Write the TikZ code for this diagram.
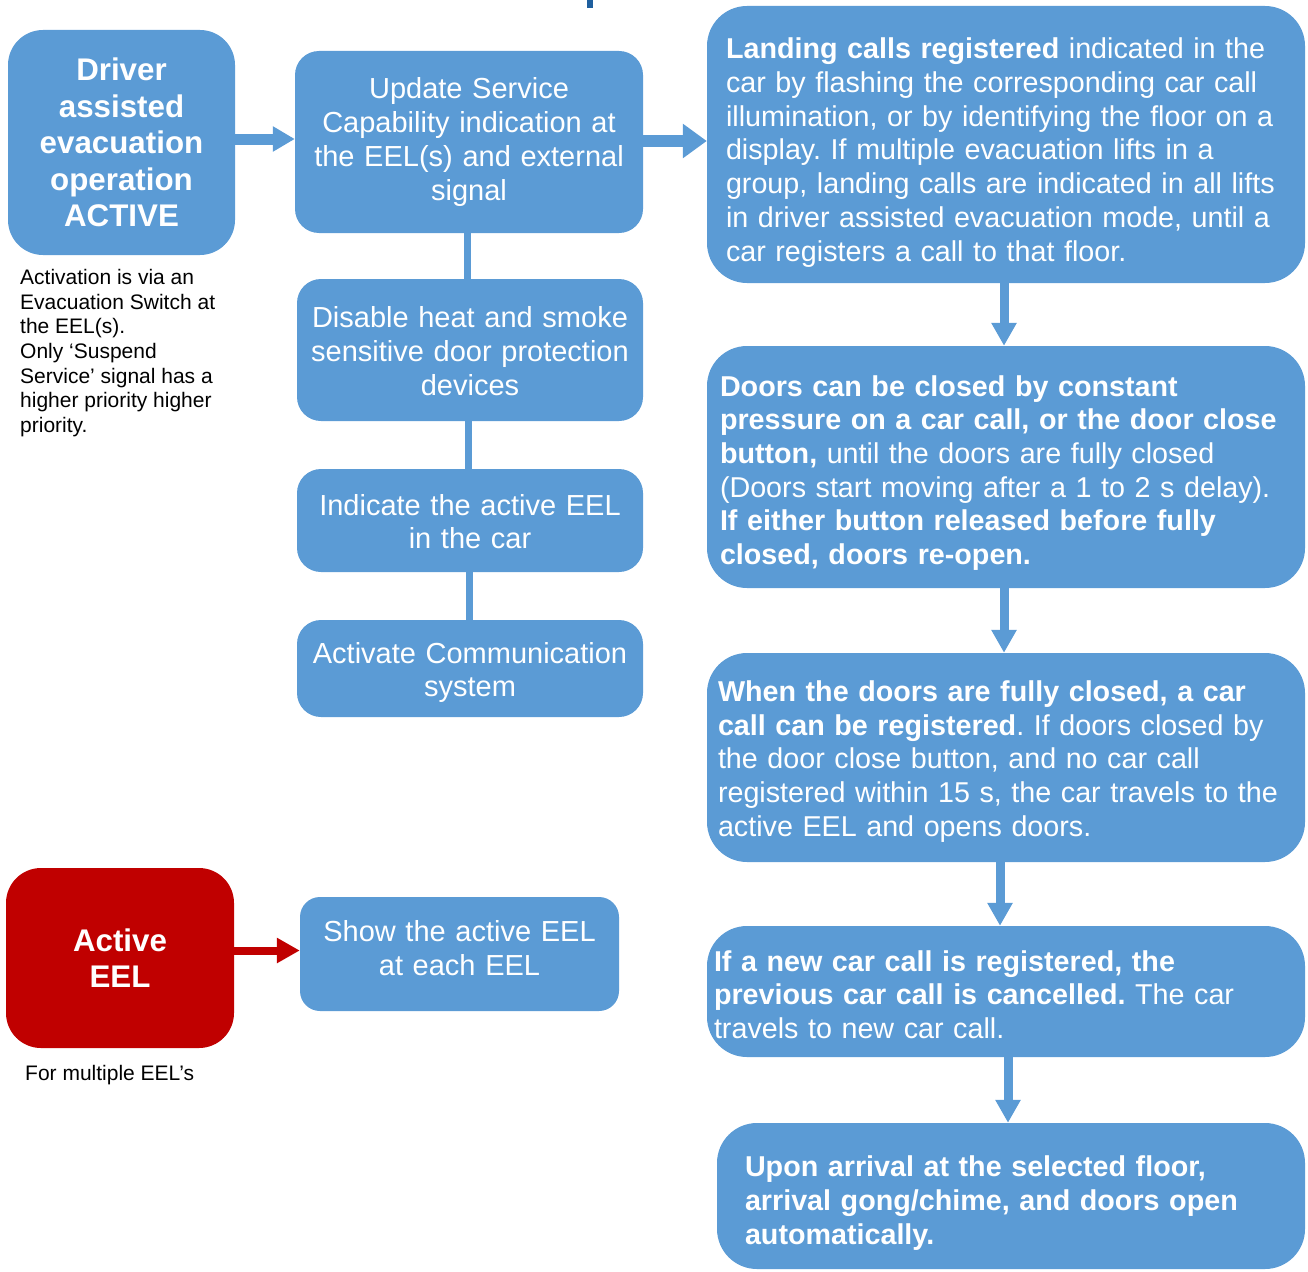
\documentclass[tikz,border=0pt]{standalone}
\usepackage{fontspec}
\setmainfont{Liberation Sans}
\usetikzlibrary{arrows.meta}
\definecolor{boxblue}{HTML}{5B9BD5}
\definecolor{boxred}{HTML}{C00000}
\definecolor{titleblue}{HTML}{1F5F9E}
\frenchspacing
\begin{document}
\begin{tikzpicture}[x=1pt,y=-1pt,
  box/.style={fill=boxblue, draw=none, text=white, inner sep=0pt,
    font=\fontsize{29}{33.7}\selectfont},
  midbox/.style={box, rounded corners=24pt, align=center},
  sidebox/.style={box, rounded corners=40pt, align=left,
    font=\fontsize{28.7}{33.7}\selectfont},
  headbox/.style={box, rounded corners=35pt, align=center,
    font=\fontsize{31.3}{36.5}\selectfont\bfseries},
  note/.style={inner sep=0pt, align=left, anchor=north west,
    font=\fontsize{21}{24.7}\selectfont},
  link/.style={draw=boxblue, line width=7pt},
  flowarrow/.style={draw=boxblue, line width=9pt,
    -{Triangle[width=24pt,length=23pt]}},
  sidearrow/.style={draw=boxblue, line width=11pt,
    -{Triangle[width=24pt,length=22pt]}},
  toparrow/.style={draw=boxblue, line width=12pt,
    -{Triangle[width=33pt,length=24pt]}},
  redarrow/.style={draw=boxred, line width=8pt,
    -{Triangle[width=24pt,length=23pt]}}
]
\useasboundingbox (0,0) rectangle (1308,1271);

% tail of the heading above the chart
\fill[titleblue] (587,0) rectangle (593,8);

% left column
\node[headbox, minimum width=227pt, minimum height=225pt, text width=210pt]
  (drv) at (121.5,142.5) {Driver\\assisted\\evacuation\\operation\\ACTIVE};
\node[note] (drvnote) at (20,269) {Activation is via an\\Evacuation Switch at\\the EEL(s).\\Only ‘Suspend\\Service’ signal has a\\higher priority higher\\priority.};

\node[headbox, fill=boxred, minimum width=228pt, minimum height=180pt, text width=210pt]
  (act) at (120,958) {Active\\EEL};
\node[note] (actnote) at (25,1065) {For multiple EEL’s};

% middle column (a trailing \vspace moves the text block within its box)
\node[midbox, minimum width=348pt, minimum height=182pt, text width=330pt]
  (upd) at (469,142) {Update Service\\Capability indication at\\the EEL(s) and external\\signal};
\node[midbox, minimum width=346pt, minimum height=142pt, text width=330pt]
  (dis) at (470,350) {Disable heat and smoke\\sensitive door protection\\devices\vspace{-2pt}};
\node[midbox, minimum width=346pt, minimum height=103pt, text width=330pt]
  (ind) at (470,520.5) {Indicate the active EEL\\in the car\vspace{-2pt}};
\node[midbox, minimum width=346pt, minimum height=97pt, text width=330pt]
  (com) at (470,668.5) {Activate Communication\\system\vspace{-8pt}};
\node[midbox, rounded corners=20pt, minimum width=319pt, minimum height=114pt, text width=300pt]
  (shw) at (459.5,954) {Show the active EEL\\at each EEL\vspace{12pt}};

% right column
\node[sidebox, minimum width=598pt, minimum height=277pt, inner xsep=19pt, text width=560pt]
  (land) at (1006,144.5) {\textbf{Landing calls registered} indicated in the\\car by flashing the corresponding car call\\illumination, or by identifying the floor on a\\display. If multiple evacuation lifts in a\\group, landing calls are indicated in all lifts\\in driver assisted evacuation mode, until a\\car registers a call to that floor.\vspace{-16pt}};
\node[sidebox, minimum width=598pt, minimum height=242pt, inner xsep=13pt, text width=572pt]
  (door) at (1006,467) {\textbf{Doors can be closed by constant}\\\textbf{pressure on a car call, or the door close}\\\textbf{button,} until the doors are fully closed\\(Doors start moving after a 1 to 2 s delay).\\\textbf{If either button released before fully}\\\textbf{closed, doors re-open.}\vspace{-12pt}};
\node[sidebox, minimum width=598pt, minimum height=209pt, inner xsep=11pt, text width=576pt]
  (reg) at (1006,757.5) {\textbf{When the doors are fully closed, a car}\\\textbf{call can be registered}. If doors closed by\\the door close button, and no car call\\registered within 15 s, the car travels to the\\active EEL and opens doors.\vspace{-8pt}};
\node[sidebox, minimum width=598pt, minimum height=131pt, inner xsep=7pt, text width=584pt]
  (new) at (1006,991.5) {\textbf{If a new car call is registered, the}\\\textbf{previous car call is cancelled.} The car\\travels to new car call.\vspace{-6pt}};
\node[sidebox, minimum width=588pt, minimum height=146pt, inner xsep=28pt, text width=532pt]
  (arr) at (1011,1196) {\textbf{Upon arrival at the selected floor,}\\\textbf{arrival gong/chime, and doors open}\\\textbf{automatically.}\vspace{-14pt}};

% connectors
\draw[sidearrow] (drv.east |- 0,139) -- (upd.west |- 0,139);
\draw[toparrow] (upd.east |- 0,141) -- (land.west |- 0,141);
\draw[redarrow] (act.east |- 0,950.5) -- (shw.west |- 0,950.5);

\draw[link] ([xshift=-2pt]upd.south) -- ([xshift=-2pt]upd.south |- dis.north);
\draw[link] ([xshift=-2pt]dis.south) -- ([xshift=-2pt]dis.south |- ind.north);
\draw[link] ([xshift=-1pt]ind.south) -- ([xshift=-1pt]ind.south |- com.north);

\draw[flowarrow] ([xshift=-2pt]land.south) -- ([xshift=-2pt]land.south |- door.north);
\draw[flowarrow] ([xshift=-2pt]door.south) -- ([xshift=-2pt]door.south |- reg.north);
\draw[flowarrow] ([xshift=-6pt]reg.south) -- ([xshift=-6pt]reg.south |- new.north);
\draw[flowarrow] ([xshift=2pt]new.south) -- ([xshift=2pt]new.south |- arr.north);
\end{tikzpicture}
\end{document}
